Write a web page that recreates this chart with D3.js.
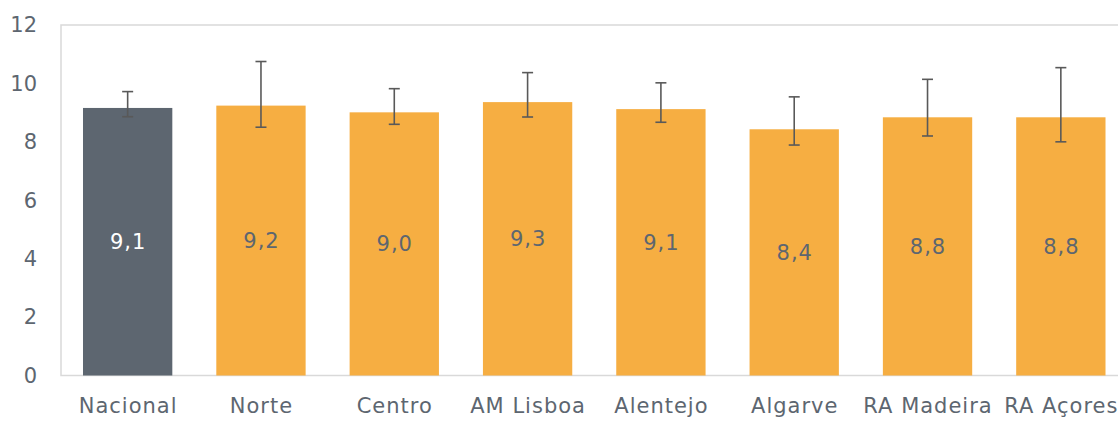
<!DOCTYPE html>
<html>
<head>
<meta charset="utf-8">
<script src="https://cdn.jsdelivr.net/npm/d3@7"></script>
<style>
  body { margin: 0; background: #fff; }
  svg { display: block; font-family: "DejaVu Sans", sans-serif; }
</style>
</head>
<body>
<svg id="chart" width="1118" height="421"></svg>
<script>
// data
const categories = ["Nacional", "Norte", "Centro", "AM Lisboa", "Alentejo", "Algarve", "RA Madeira", "RA Açores"];
const values = [9.1, 9.2, 9.0, 9.3, 9.1, 8.4, 8.8, 8.8];
const barHeights = [9.16, 9.24, 9.01, 9.36, 9.12, 8.43, 8.84, 8.84];
const errLow = [8.86, 8.5, 8.6, 8.85, 8.67, 7.89, 8.2, 8.0];
const errHigh = [9.72, 10.75, 9.82, 10.37, 10.02, 9.54, 10.14, 10.54];
const yTicks = [0, 2, 4, 6, 8, 10, 12];

const svg = d3.select("#chart");
const plotLeft = 61, plotTop = 25, plotBottom = 375.5, plotRight = 1127.5;
const textColor = "#5d6670";

const x = d3.scaleBand()
  .domain(categories)
  .range([plotLeft, plotRight])
  .paddingInner(0.33)
  .paddingOuter(0.165);

const y = d3.scaleLinear()
  .domain([0, 12])
  .range([plotBottom, plotTop]);

// plot area border
svg.append("rect")
  .attr("x", plotLeft).attr("y", plotTop)
  .attr("width", plotRight - plotLeft).attr("height", plotBottom - plotTop)
  .attr("fill", "none")
  .attr("stroke", "#d9d9d9")
  .attr("stroke-width", 1.5);

// bars
svg.selectAll(".bar")
  .data(categories)
  .join("rect")
  .attr("class", "bar")
  .attr("x", d => x(d))
  .attr("width", x.bandwidth())
  .attr("y", (d, i) => y(barHeights[i]))
  .attr("height", (d, i) => plotBottom - y(barHeights[i]))
  .attr("fill", (d, i) => i === 0 ? "#5d6670" : "#f6ae42");

// error bars
const err = svg.selectAll(".err")
  .data(categories)
  .join("g")
  .attr("class", "err")
  .attr("stroke", "#595959")
  .attr("stroke-width", 1.6);

const cx = d => x(d) + x.bandwidth() / 2;
err.append("line")
  .attr("x1", cx).attr("x2", cx)
  .attr("y1", (d, i) => y(errLow[i]))
  .attr("y2", (d, i) => y(errHigh[i]));
err.append("line")
  .attr("x1", d => cx(d) - 5.5).attr("x2", d => cx(d) + 5.5)
  .attr("y1", (d, i) => y(errHigh[i]))
  .attr("y2", (d, i) => y(errHigh[i]));
err.append("line")
  .attr("x1", d => cx(d) - 5.5).attr("x2", d => cx(d) + 5.5)
  .attr("y1", (d, i) => y(errLow[i]))
  .attr("y2", (d, i) => y(errLow[i]));

// value labels in the middle of each bar
svg.selectAll(".val")
  .data(categories)
  .join("text")
  .attr("class", "val")
  .attr("x", d => cx(d) + 0.5)
  .attr("y", (d, i) => (y(barHeights[i]) + plotBottom) / 2)
  .attr("dy", "0.35em")
  .attr("text-anchor", "middle")
  .attr("font-size", 21)
  .attr("letter-spacing", 1)
  .attr("fill", (d, i) => i === 0 ? "#ffffff" : textColor)
  .text((d, i) => values[i].toFixed(1).replace(".", ","));

// y axis labels
svg.selectAll(".ytick")
  .data(yTicks)
  .join("text")
  .attr("class", "ytick")
  .attr("x", 37)
  .attr("y", d => y(d))
  .attr("dy", "0.35em")
  .attr("text-anchor", "end")
  .attr("font-size", 21)
  .attr("fill", textColor)
  .text(d => d);

// category labels
svg.selectAll(".xlab")
  .data(categories)
  .join("text")
  .attr("class", "xlab")
  .attr("x", d => cx(d) + 0.5)
  .attr("y", 413)
  .attr("text-anchor", "middle")
  .attr("font-size", 21)
  .attr("letter-spacing", 1)
  .attr("fill", textColor)
  .text(d => d);
</script>
</body>
</html>
